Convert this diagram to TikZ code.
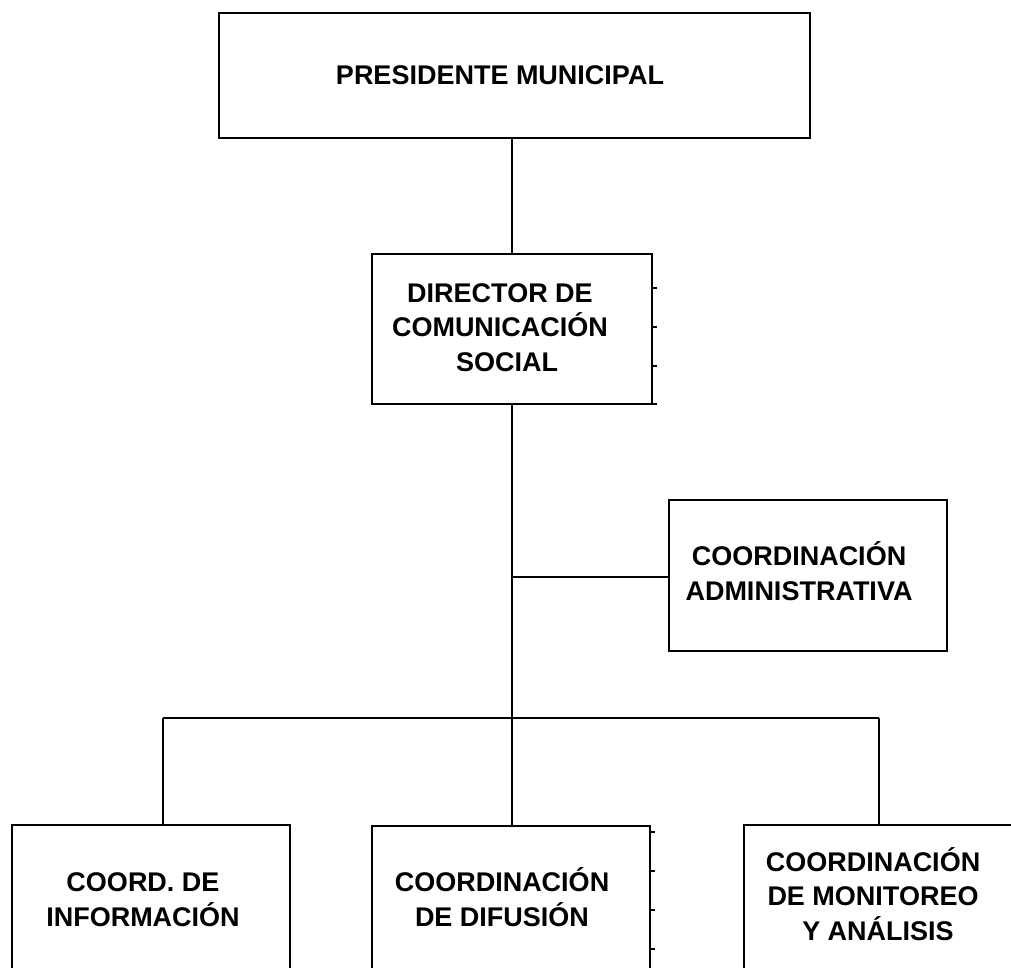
\documentclass[tikz,border=0pt]{standalone}
\usepackage{fontspec}
\setmainfont{Liberation Sans}
\begin{document}
\begin{tikzpicture}[x=1pt,y=-1pt,
  box/.style={draw=black,line width=2.6pt,rectangle,inner sep=0pt},
  lbl/.style={font=\fontsize{27}{34.5}\selectfont\bfseries,align=center,inner sep=0pt,anchor=base,text=black},
  conn/.style={draw=black,line width=2.6pt},
  tick/.style={draw=black,line width=1.4pt}]
\useasboundingbox (0,0) rectangle (1011,968);
\clip (0,0) rectangle (1011,968);
% boxes
\node[box,minimum width=591pt,minimum height=125pt] (pres) at (514.5,75.5) {};
\node[box,minimum width=280pt,minimum height=150pt] (dir) at (512,329) {};
\node[box,minimum width=278pt,minimum height=151pt] (adm) at (808,575.5) {};
\node[box,minimum width=278pt,minimum height=200pt] (inf) at (151,925) {};
\node[box,minimum width=278pt,minimum height=200pt] (dif) at (511,926) {};
\node[box,minimum width=300pt,minimum height=200pt] (mon) at (894,925) {};
% texts (base anchor = baseline of the last line)
\node[lbl] (tpres) at (500,85) {PRESIDENTE MUNICIPAL};
\node[lbl] (tdir) at (500,371) {DIRECTOR DE\\COMUNICACIÓN\\\hspace*{14pt}SOCIAL};
\node[lbl] (tadm) at (799,600) {COORDINACIÓN\\ADMINISTRATIVA};
\node[lbl] (tinf) at (143,926) {COORD. DE\\INFORMACIÓN};
\node[lbl] (tdif) at (502,926) {COORDINACIÓN\\DE DIFUSIÓN};
\node[lbl] (tmon) at (873,940) {COORDINACIÓN\\DE MONITOREO\\\hspace*{10pt}Y ANÁLISIS};
% connectors
\coordinate (j1) at (512,577);
\coordinate (j2) at (512,718);
\coordinate (bl) at (163,718);
\coordinate (br) at (879,718);
\draw[conn] (dir.north) -- (dir.north |- pres.south);
\draw[conn] (dir.south) -- (j2);
\draw[conn] (j1) -- (adm.west |- j1);
\draw[conn] (bl) -- (br);
\draw[conn] (bl) -- (bl |- inf.north);
\draw[conn] (j2) -- (j2 |- dif.north);
\draw[conn] (br) -- (br |- mon.north);
% small tick marks on right edges
\foreach \yy in {288,327,366,404} \draw[tick] (dir.east |- 0,\yy) -- ++(4,0);
\foreach \yy in {832,871,910,949} \draw[tick] (dif.east |- 0,\yy) -- ++(4,0);
\end{tikzpicture}
\end{document}
